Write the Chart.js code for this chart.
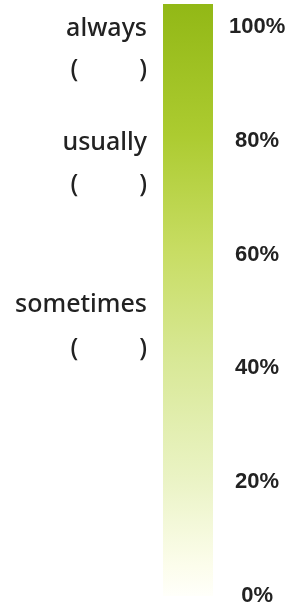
<!DOCTYPE html>
<html>
<head>
<meta charset="utf-8">
<script src="https://cdn.jsdelivr.net/npm/chart.js@4/dist/chart.umd.min.js"></script>
<style>
html,body{margin:0;padding:0;background:#fff;}
#wrap{width:286px;height:608px;position:relative;}
</style>
</head>
<body>
<div id="wrap"><canvas id="c"></canvas></div>
<script>
const categories = ['frequency'];
const barTop = [104];
const rightTickValues = [0, 20, 40, 60, 80, 100];
const rightTickLabels = ['0%', '20%', '40%', '60%', '80%', '100%'];
const leftLabels = ['always', '(         \u200A)', 'usually', '(         \u200A)', 'sometimes', '(         \u200A)'];
const leftValues = [99.6, 92.4, 79.6, 72.2, 51.1, 43.4];

const gradientStops = [
  [0.00, 'rgba(255,255,250,1)'],
  [0.05, 'rgba(252,253,236,1)'],
  [0.20, 'rgba(234,243,196,1)'],
  [0.40, 'rgba(216,232,150,1)'],
  [0.58, 'rgba(200,221,100,1)'],
  [0.78, 'rgba(172,203,48,1)'],
  [1.00, 'rgba(146,184,22,1)']
];

function barFill(ctx) {
  const ch = ctx.chart;
  const area = ch.chartArea;
  if (!area) return gradientStops[6][1];
  const g = ch.ctx.createLinearGradient(0, area.bottom, 0, area.top);
  gradientStops.forEach(s => g.addColorStop(s[0], s[1]));
  return g;
}

function noVertPad(s, w) {
  s.width = w;
  s.paddingTop = 0;
  s.paddingBottom = 0;
}

new Chart(document.getElementById('c'), {
  type: 'bar',
  data: {
    labels: categories,
    datasets: [{
      data: barTop,
      backgroundColor: barFill,
      borderWidth: 0,
      barPercentage: 1,
      categoryPercentage: 1
    }]
  },
  options: {
    responsive: true,
    maintainAspectRatio: false,
    animation: false,
    layout: { padding: { top: 4, bottom: 12, left: 0, right: 0 } },
    plugins: { legend: { display: false }, tooltip: { enabled: false } },
    scales: {
      x: { display: false },
      y: {
        position: 'right',
        min: 0, max: 104,
        grid: { display: false, drawTicks: false },
        border: { display: false },
        afterBuildTicks: s => { s.ticks = rightTickValues.map(v => ({ value: v })); },
        afterFit: s => noVertPad(s, 73),
        ticks: {
          padding: 16,
          crossAlign: 'center',
          color: '#222',
          font: { family: 'Liberation Sans', weight: 'bold', size: 22 },
          callback: (v, i) => rightTickLabels[i]
        }
      },
      yl: {
        position: 'left',
        min: 0, max: 104,
        grid: { display: false, drawTicks: false },
        border: { display: false },
        afterBuildTicks: s => { s.ticks = leftValues.map(v => ({ value: v })); },
        afterFit: s => noVertPad(s, 163),
        ticks: {
          padding: 16,
          autoSkip: false,
          color: '#222',
          font: { family: 'Noto Sans', weight: '500', size: 25 },
          callback: (v, i) => leftLabels[i]
        }
      }
    }
  }
});
</script>
</body>
</html>
